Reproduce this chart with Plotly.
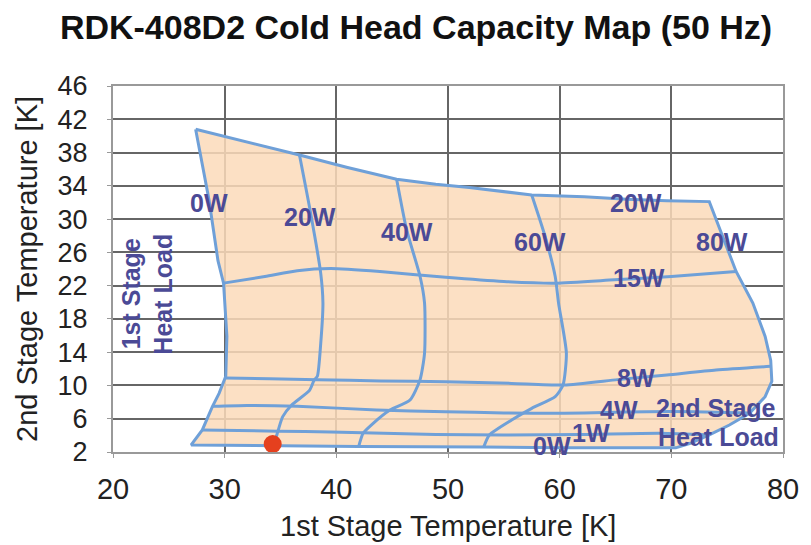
import plotly.graph_objects as go

# ---- data ----
# Envelope: 2nd stage 20W (top edge)
top20_x = [27.4, 32.0, 36.7, 41.0, 45.4, 48.9, 51.9, 57.5, 62.2, 66.0, 69.6, 73.4]
top20_y = [40.8, 39.3, 37.7, 36.2, 34.8, 34.2, 33.8, 32.9, 32.7, 32.4, 32.2, 32.1]
# Envelope: 1st stage 80W (right edge)
right80_x = [73.4, 74.6, 75.8, 77.3, 78.4, 78.9, 79.0, 78.4, 77.0, 75.2, 73.4, 71.7, 70.4]
right80_y = [32.1, 28.0, 23.7, 19.9, 15.9, 13.0, 10.5, 8.65, 6.65, 5.25, 4.05, 3.05, 2.5]
# Envelope: 2nd stage 0W (bottom edge)
bot0_x = [70.4, 60.0, 53.2, 42.0, 34.3, 27.0]
bot0_y = [2.5, 2.5, 2.6, 2.65, 2.75, 2.85]
# Envelope: 1st stage 0W (left edge)
left0_x = [27.0, 28.0, 28.9, 29.5, 29.9, 30.1, 30.2, 29.9, 29.4, 28.6, 27.4]
left0_y = [2.85, 4.65, 7.45, 9.05, 10.5, 11.1, 15.9, 22.3, 25.0, 32.3, 40.8]

# 1st stage load lines
w20_x = [36.7, 37.7, 38.6, 38.8, 38.6, 38.3, 38.0, 37.6, 36.0, 35.2, 34.8, 34.4]
w20_y = [37.7, 30.7, 23.5, 19.9, 15.0, 11.1, 10.6, 9.4, 7.65, 6.25, 4.65, 2.75]
w40_x = [45.4, 46.3, 47.5, 47.9, 47.9, 47.5, 46.6, 44.8, 43.3, 42.4, 42.0]
w40_y = [34.8, 28.7, 23.1, 19.9, 13.9, 10.7, 8.25, 7.05, 5.45, 4.25, 2.65]
w60_x = [57.5, 58.7, 59.6, 59.9, 60.6, 60.3, 59.6, 57.5, 55.7, 53.7, 53.2]
w60_y = [32.9, 27.9, 23.1, 19.9, 13.9, 10.05, 8.65, 7.25, 5.85, 4.05, 2.6]

# 2nd stage load lines
w15_x = [29.9, 33.6, 36.5, 39.5, 43.9, 49.8, 55.0, 59.6, 64.9, 70.0, 75.8]
w15_y = [22.3, 23.1, 23.8, 24.05, 23.7, 23.0, 22.5, 22.3, 22.7, 23.1, 23.7]
w8_x = [30.1, 34.0, 38.3, 44.0, 49.8, 55.7, 60.4, 65.2, 69.6, 74.0, 78.9]
w8_y = [10.9, 10.8, 10.7, 10.55, 10.45, 10.25, 10.05, 10.7, 11.25, 11.85, 12.3]
w4_x = [28.9, 32.0, 36.5, 43.6, 49.8, 55.0, 60.4, 64.0, 67.8, 72.0, 77.0]
w4_y = [7.5, 7.6, 7.5, 7.05, 6.85, 6.7, 6.65, 6.75, 6.85, 6.85, 6.7]
w1_x = [28.0, 34.8, 39.5, 48.9, 55.0, 62.0, 69.0, 73.4]
w1_y = [4.65, 4.5, 4.4, 4.1, 4.05, 4.1, 4.25, 4.05]

# operating point
pt_x = [34.3]
pt_y = [2.96]

# load labels
lab_text = ["0W", "20W", "40W", "60W", "80W", "20W", "15W", "8W", "4W", "1W", "0W"]
lab_x = [28.6, 37.6, 46.3, 58.2, 74.5, 66.8, 67.1, 66.8, 65.3, 62.8, 59.3]
lab_y = [31.9, 30.3, 28.5, 27.3, 27.3, 31.9, 22.9, 10.9, 7.1, 4.25, 2.7]

x_ticks = [20, 30, 40, 50, 60, 70, 80]
y_ticks = [2, 6, 10, 14, 18, 22, 26, 30, 34, 38, 42, 46]

LINE = "#6FA0D8"
TXT = "#4B4A96"
FONT = "Liberation Sans, Arial, sans-serif"

fig = go.Figure()

env_x = top20_x + right80_x[1:] + bot0_x[1:] + left0_x[1:]
env_y = top20_y + right80_y[1:] + bot0_y[1:] + left0_y[1:]
fig.add_trace(go.Scatter(x=env_x, y=env_y, mode="lines", fill="toself",
                         fillcolor="rgba(252,218,186,0.85)",
                         line=dict(color=LINE, width=3), hoverinfo="skip",
                         showlegend=False))

for xs, ys in [(w20_x, w20_y), (w40_x, w40_y), (w60_x, w60_y),
               (w15_x, w15_y), (w8_x, w8_y), (w4_x, w4_y), (w1_x, w1_y)]:
    fig.add_trace(go.Scatter(x=xs, y=ys, mode="lines",
                             line=dict(color=LINE, width=3, shape="spline", smoothing=0.6),
                             hoverinfo="skip", showlegend=False))

fig.add_trace(go.Scatter(x=pt_x, y=pt_y, mode="markers",
                         marker=dict(color="#E5401E", size=18),
                         showlegend=False))

LBL = dict(family=FONT, size=25, color=TXT, weight="bold")
for t, x, y in zip(lab_text, lab_x, lab_y):
    fig.add_annotation(x=x, y=y, text=t, showarrow=False, font=LBL)

fig.add_annotation(x=0.807, xref="paper", y=7.25, yref="y", xanchor="left",
                   text="2nd Stage", showarrow=False, font=LBL)
fig.add_annotation(x=0.81, xref="paper", y=3.85, yref="y", xanchor="left",
                   text="Heat Load", showarrow=False, font=LBL)
fig.add_annotation(x=21.65, y=21.0, text="1st Stage", textangle=-90, showarrow=False, font=LBL)
fig.add_annotation(x=24.45, y=21.0, text="Heat Load", textangle=-90, showarrow=False, font=LBL)

# axis titles
fig.add_annotation(x=0.5, xref="paper", y=0, yref="paper", yshift=-74, yanchor="middle",
                   text="1st Stage Temperature [K]", showarrow=False,
                   font=dict(family=FONT, size=29, color="#222"))
fig.add_annotation(x=0, xref="paper", y=0.5, yref="paper", xshift=-86, xanchor="center",
                   yanchor="middle", text="2nd Stage Temperature [K]", textangle=-90,
                   showarrow=False, font=dict(family=FONT, size=29, color="#222"))

fig.update_layout(
    width=811, height=545,
    margin=dict(l=113, r=20, t=86, b=93),
    paper_bgcolor="white", plot_bgcolor="white",
    title=dict(text="<b>RDK-408D2 Cold Head Capacity Map (50 Hz)</b>",
               x=0.513, xanchor="center", y=1 - 27 / 545, yanchor="middle", yref="container",
               font=dict(family=FONT, size=34, color="#111")),
    xaxis=dict(range=[20, 80], tickvals=x_ticks, showgrid=True, gridcolor="#666", gridwidth=1.5,
               showline=True, linecolor="#999", linewidth=2, mirror=True,
               ticks="outside", ticklen=4, tickcolor="#999", ticklabelstandoff=6,
               tickfont=dict(family=FONT, size=29, color="#222"), zeroline=False, fixedrange=True),
    yaxis=dict(range=[2, 46], tickvals=y_ticks, showgrid=True, gridcolor="#666", gridwidth=1.5,
               showline=True, linecolor="#999", linewidth=2, mirror=True,
               ticks="outside", ticklen=4, tickcolor="#999", ticklabelstandoff=14,
               tickfont=dict(family=FONT, size=27, color="#222"), zeroline=False, fixedrange=True),
)

fig.write_html("out.html")
